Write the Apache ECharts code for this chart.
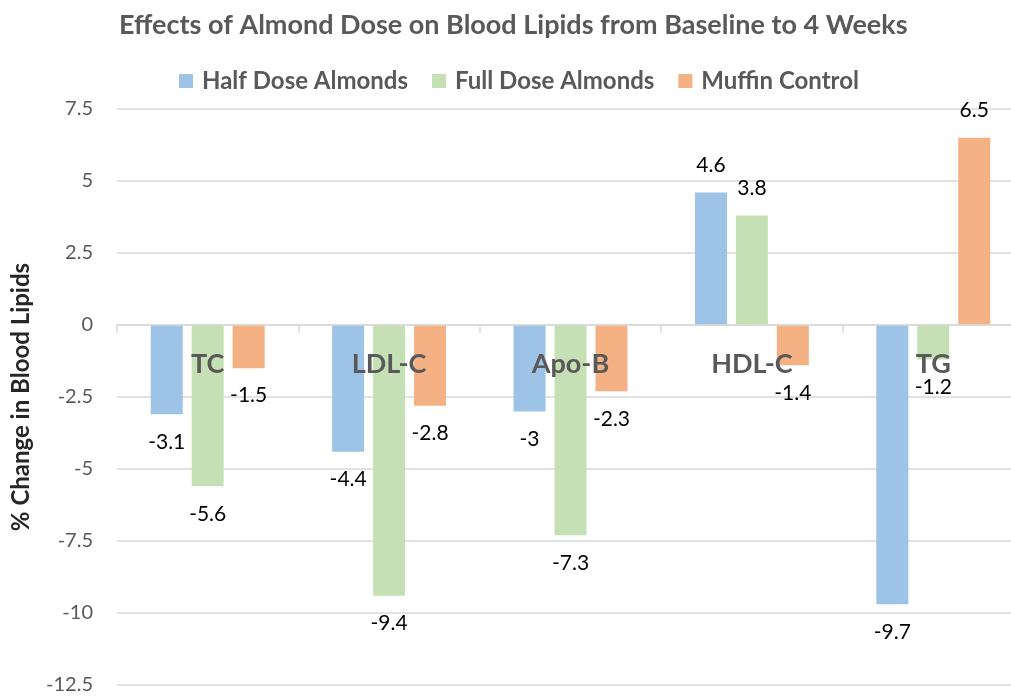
<!DOCTYPE html>
<html>
<head>
<meta charset="utf-8">
<title>Effects of Almond Dose on Blood Lipids</title>
<script src="https://cdn.jsdelivr.net/npm/echarts@6/dist/echarts.min.js"></script>
<style>
  html, body { margin: 0; padding: 0; background: #fff; }
  #chart { width: 1011px; height: 697px; }
</style>
</head>
<body>
<div id="chart"></div>
<script>
// data
const categories = ['TC', 'LDL-C', 'Apo-B', 'HDL-C', 'TG'];
const halfDose = [-3.1, -4.4, -3, 4.6, -9.7];
const fullDose = [-5.6, -9.4, -7.3, 3.8, -1.2];
const muffinControl = [-1.5, -2.8, -2.3, -1.4, 6.5];

const seriesNames = ['Half Dose Almonds', 'Full Dose Almonds', 'Muffin Control'];
const seriesColors = ['#9DC3E6', '#C5E0B4', '#F4B183'];

const FONT = 'Lato, "Open Sans", sans-serif';

// grid box (px) - the plot runs a bit past the right edge like the original
const GRID_TOP = 109;
const GRID_BOTTOM = 12;
const Y_MIN = -12.5;
const Y_MAX = 7.5;
const plotHeight = 697 - GRID_TOP - GRID_BOTTOM;
// move the category axis from the bottom up to the zero line
const zeroOffset = -plotHeight * (0 - Y_MIN) / (Y_MAX - Y_MIN);

// negative bars get their label under the end, positive ones above
const withLabels = (values) => values.map(v => ({
  value: v,
  label: { position: v < 0 ? 'bottom' : 'top' }
}));

const makeSeries = (name, values, color) => ({
  name: name,
  type: 'bar',
  data: withLabels(values),
  barWidth: 32,
  barGap: '28%',
  itemStyle: { color: color },
  label: {
    show: true,
    distance: 17,
    color: '#000',
    fontFamily: FONT,
    fontSize: 21
  }
});

const chart = echarts.init(document.getElementById('chart'));

const option = {
  animation: false,
  title: {
    text: 'Effects of Almond Dose on Blood Lipids from Baseline to 4 Weeks',
    left: 114,
    top: 7,
    textStyle: {
      color: '#595959',
      fontFamily: FONT,
      fontWeight: 'bold',
      fontSize: 27
    }
  },
  legend: {
    top: 64,
    left: 174,
    icon: 'rect',
    itemWidth: 14,
    itemHeight: 14,
    itemGap: 24,
    textStyle: {
      color: '#595959',
      fontFamily: FONT,
      fontWeight: 'bold',
      fontSize: 24,
      padding: [0, 0, 0, 4]
    },
    data: seriesNames
  },
  grid: {
    left: 117,
    right: -13,
    top: GRID_TOP,
    bottom: GRID_BOTTOM,
    outerBoundsMode: 'none'
  },
  xAxis: {
    type: 'category',
    data: categories,
    z: 5,
    offset: zeroOffset,
    axisLine: {
      onZero: false,
      lineStyle: { color: '#D9D9D9', width: 1.5 }
    },
    axisTick: {
      show: true,
      length: 8,
      lineStyle: { color: '#D9D9D9', width: 1.5 }
    },
    axisLabel: {
      margin: 26,
      color: '#595959',
      fontFamily: FONT,
      fontWeight: 'bold',
      fontSize: 27
    }
  },
  yAxis: {
    type: 'value',
    min: Y_MIN,
    max: Y_MAX,
    interval: 2.5,
    name: '% Change in Blood Lipids',
    nameLocation: 'middle',
    nameGap: 84,
    nameTextStyle: {
      color: '#262626',
      fontFamily: FONT,
      fontWeight: 'bold',
      fontSize: 24
    },
    axisLine: { show: false },
    axisTick: { show: false },
    axisLabel: {
      margin: 24,
      color: '#595959',
      fontFamily: FONT,
      fontSize: 20
    },
    splitLine: {
      lineStyle: { color: '#D9D9D9', width: 1.5 }
    }
  },
  series: [
    makeSeries(seriesNames[0], halfDose, seriesColors[0]),
    makeSeries(seriesNames[1], fullDose, seriesColors[1]),
    makeSeries(seriesNames[2], muffinControl, seriesColors[2])
  ]
};

chart.setOption(option);
</script>
</body>
</html>
